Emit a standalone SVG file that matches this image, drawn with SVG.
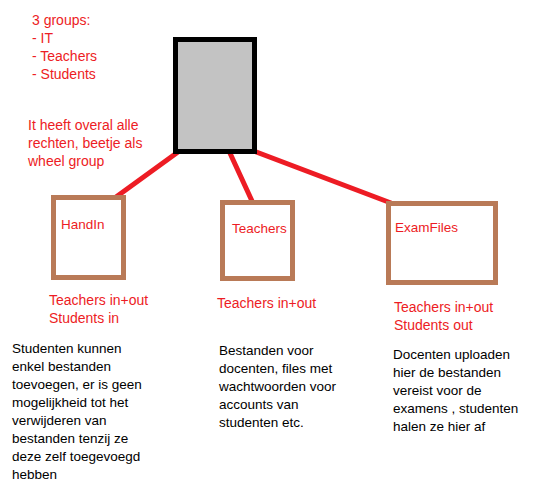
<svg xmlns="http://www.w3.org/2000/svg" width="535" height="502" viewBox="0 0 535 502">
<style>
text{font-family:"Liberation Sans",Arial,sans-serif;font-size:14px}
.r{fill:#ed1c24}
.k{fill:#000;font-size:13.5px}
.lb{font-size:13.5px}
.box{fill:#fff;stroke:#b97a57;stroke-width:5}
.ln{stroke:#ed1c24;stroke-width:5;stroke-linecap:round;fill:none}
</style>
<rect width="535" height="502" fill="#fff"/>
<g id="connectors">
<line class="ln" x1="178" y1="152" x2="116" y2="197"/>
<line class="ln" x1="229" y1="151" x2="252" y2="201"/>
<line class="ln" x1="251" y1="150" x2="391" y2="203"/>
</g>
<g id="root">
<rect x="175.5" y="39.5" width="79" height="112" fill="#c3c3c3" stroke="#000" stroke-width="5"/>
</g>
<g id="notes-groups">
<text class="r" x="32" y="25">3 groups:</text>
<text class="r" x="32" y="43">- IT</text>
<text class="r" x="32" y="61">- Teachers</text>
<text class="r" x="32" y="79">- Students</text>
<text class="r" x="28" y="129.5">It heeft overal alle</text>
<text class="r" x="28" y="147.5">rechten, beetje als</text>
<text class="r" x="28" y="165.5">wheel group</text>
</g>
<g id="handin">
<rect class="box" x="53.5" y="197.5" width="70" height="80"/>
<text class="r lb" x="61" y="229">HandIn</text>
<text class="r" x="49" y="304.5">Teachers in+out</text>
<text class="r" x="49" y="322.5">Students in</text>
<text class="k" x="12" y="353">Studenten kunnen</text>
<text class="k" x="12" y="371">enkel bestanden</text>
<text class="k" x="12" y="389">toevoegen, er is geen</text>
<text class="k" x="12" y="407">mogelijkheid tot het</text>
<text class="k" x="12" y="425">verwijderen van</text>
<text class="k" x="12" y="443">bestanden tenzij ze</text>
<text class="k" x="12" y="461">deze zelf toegevoegd</text>
<text class="k" x="12" y="479">hebben</text>
</g>
<g id="teachers">
<rect class="box" x="222.5" y="202.5" width="70" height="76"/>
<text class="r lb" x="232" y="233">Teachers</text>
<text class="r" x="217" y="308">Teachers in+out</text>
<text class="k" x="219" y="355">Bestanden voor</text>
<text class="k" x="219" y="373">docenten, files met</text>
<text class="k" x="219" y="391">wachtwoorden voor</text>
<text class="k" x="219" y="409">accounts van</text>
<text class="k" x="219" y="427">studenten etc.</text>
</g>
<g id="examfiles">
<rect class="box" x="388.5" y="203.5" width="107" height="79"/>
<text class="r lb" x="395" y="232">ExamFiles</text>
<text class="r" x="394" y="312">Teachers in+out</text>
<text class="r" x="394" y="330">Students out</text>
<text class="k" x="393" y="358.5">Docenten uploaden</text>
<text class="k" x="393" y="376.5">hier de bestanden</text>
<text class="k" x="393" y="394.5">vereist voor de</text>
<text class="k" x="393" y="412.5">examens , studenten</text>
<text class="k" x="393" y="430.5">halen ze hier af</text>
</g>
</svg>
